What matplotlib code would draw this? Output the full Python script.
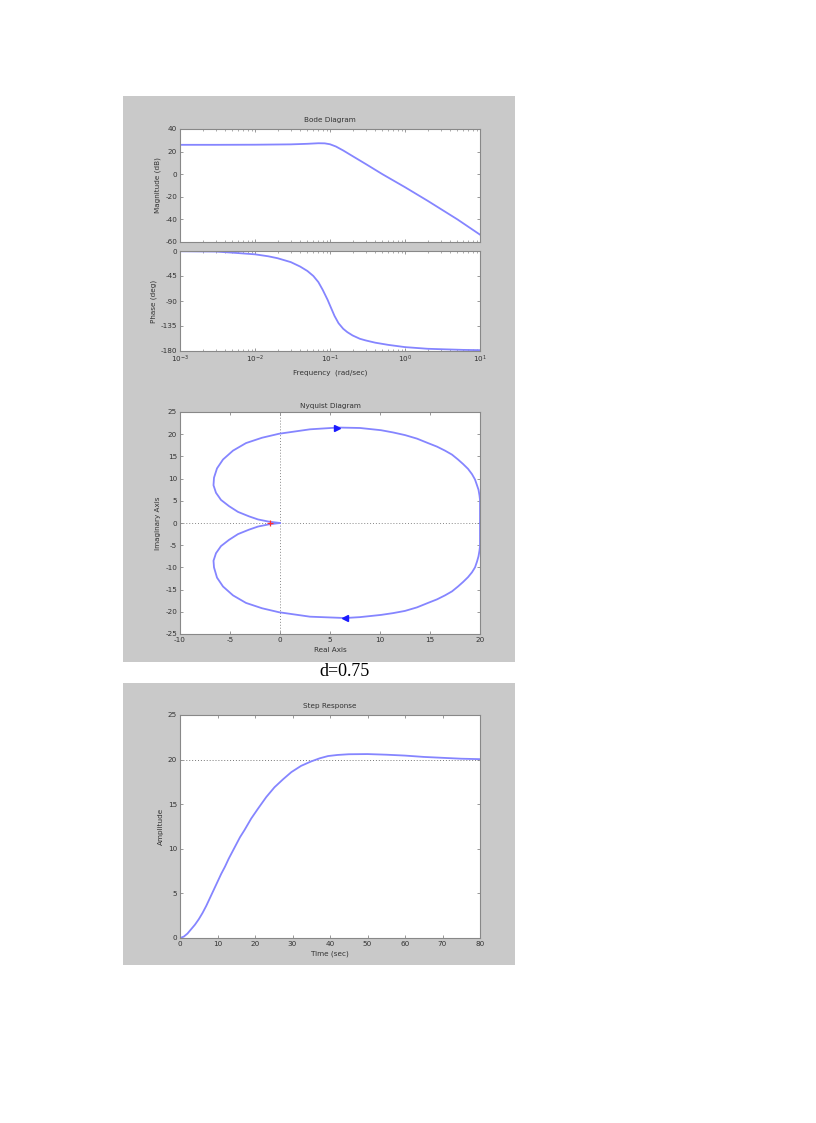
import matplotlib
matplotlib.use("Agg")
import matplotlib.pyplot as plt
from matplotlib.patches import Rectangle
from matplotlib.ticker import LogLocator, NullFormatter

plt.rcParams["axes.unicode_minus"] = False

# ---------------- data ----------------
# Bode magnitude
mag_w = [1e-3, 3e-3, 1e-2, 0.03, 0.05, 0.07, 0.085, 0.1, 0.12, 0.15, 0.2, 0.3, 0.5, 1.0, 2.0, 5.0, 10.0]
mag_db = [26.0, 26.0, 26.1, 26.4, 26.9, 27.4, 27.3, 26.5, 24.5, 21.0, 16.0, 9.0, 0.0, -11.5, -23.5, -40.0, -53.5]

# Bode phase
ph_w = [1e-3, 3e-3, 5e-3, 1e-2, 0.015, 0.02, 0.03, 0.04, 0.05, 0.06, 0.07, 0.08, 0.093, 0.1, 0.115,
        0.13, 0.15, 0.17, 0.2, 0.25, 0.3, 0.4, 0.6, 1.0, 2.0, 3.4, 6.0, 10.0]
ph_deg = [-0.5, -1.0, -3.0, -6.0, -9.5, -13.0, -20.0, -28.0, -36.0, -45.0, -56.0, -70.0, -88.0, -98.0, -117.0,
          -130.0, -140.0, -146.0, -152.0, -158.0, -161.0, -165.0, -169.0, -173.0, -176.0, -177.0, -178.0, -178.5]

# Nyquist, negative-frequency branch (upper half), from origin to (20, 0)
nyq_up_re = [0.0, -1.1, -2.2, -3.1, -4.2, -5.1, -5.9, -6.4, -6.65, -6.6, -6.3, -5.7, -4.7, -3.4, -1.8, -0.1,
             3.0, 5.8, 8.0, 10.1, 11.3, 12.5, 13.7, 14.8, 15.7, 16.5, 17.2, 17.8, 18.3, 18.8, 19.2, 19.5,
             19.7, 19.85, 19.95, 20.0, 20.0]
nyq_up_im = [0.0, 0.3, 0.8, 1.5, 2.5, 3.8, 5.2, 6.8, 8.5, 10.2, 12.3, 14.3, 16.3, 18.0, 19.2, 20.1,
             21.1, 21.5, 21.4, 20.9, 20.4, 19.8, 19.0, 18.0, 17.2, 16.3, 15.4, 14.3, 13.3, 12.2, 11.0, 9.8,
             8.5, 7.5, 6.2, 5.2, 0.0]
# Nyquist, positive-frequency branch (lower half), from (20, 0) to origin
nyq_dn_re = [20.0, 20.0, 19.95, 19.85, 19.7, 19.5, 19.2, 18.8, 18.3, 17.8, 17.2, 16.5, 15.7, 14.8, 13.7,
             12.5, 11.3, 10.1, 8.0, 6.5, 3.0, -0.1, -1.8, -3.4, -4.7, -5.7, -6.3, -6.6, -6.65, -6.4, -5.9,
             -5.1, -4.2, -3.1, -2.2, -1.1, 0.0]
nyq_dn_im = [0.0, -5.2, -6.2, -7.5, -8.7, -10.0, -11.1, -12.2, -13.3, -14.3, -15.4, -16.3, -17.2, -18.0, -19.0,
             -19.8, -20.3, -20.7, -21.2, -21.4, -21.1, -20.1, -19.2, -18.0, -16.3, -14.3, -12.3, -10.0, -8.5,
             -6.8, -5.2, -3.8, -2.5, -1.5, -0.8, -0.3, 0.0]
arrow_up = (5.7, 21.5)
arrow_dn = (6.5, -21.4)
critical_pt = (-1.0, 0.0)

# Step response
step_t = [0, 1, 2, 3, 4, 5, 6, 7, 8, 9, 10, 11, 12, 13, 14, 15, 16, 17.2, 19.0, 20.8, 23.0, 25.2,
          27.5, 29.7, 32.3, 35.0, 37.3, 39.5, 42.0, 45.0, 50.0, 55.0, 60.0, 65.0, 70.0, 75.0, 80.0]
step_y = [0, 0.15, 0.5, 1.0, 1.5, 2.1, 2.8, 3.6, 4.5, 5.4, 6.3, 7.2, 8.0, 8.9, 9.7, 10.5, 11.3, 12.1, 13.4, 14.5, 15.8, 16.9,
          17.8, 18.6, 19.3, 19.8, 20.15, 20.4, 20.52, 20.6, 20.62, 20.55, 20.45, 20.3, 20.2, 20.1, 20.05]
final_value = 20

label_text = "d=0.75"

# ---------------- styling ----------------
W, H = 816, 1123
fig = plt.figure(figsize=(W / 100, H / 100), dpi=100)
fig.patch.set_facecolor("white")

GRAY = "#c9c9c9"
CURVE = "#8585ff"
TXT = "#333333"
FS = 5.2

def fx(px):
    return px / W

def fy(py):
    return 1 - py / H

# grey panels
fig.add_artist(Rectangle((fx(123), fy(662)), fx(515) - fx(123), fy(96) - fy(662),
                         transform=fig.transFigure, facecolor=GRAY, edgecolor="none", zorder=0))
fig.add_artist(Rectangle((fx(123), fy(965)), fx(515) - fx(123), fy(683) - fy(965),
                         transform=fig.transFigure, facecolor=GRAY, edgecolor="none", zorder=0))

def make_ax(x0, x1, y0, y1):
    ax = fig.add_axes([fx(x0), fy(y1), fx(x1) - fx(x0), fy(y0) - fy(y1)])
    ax.set_facecolor("white")
    for s in ax.spines.values():
        s.set_color("#888888")
        s.set_linewidth(0.8)
    ax.tick_params(direction="in", top=True, right=True, labelsize=FS, colors="#888888",
                   labelcolor=TXT, length=2.5, width=0.6, pad=2)
    ax.tick_params(which="minor", direction="in", top=True, right=True, length=1.5,
                   width=0.5, colors="#888888")
    return ax

# --- Bode magnitude ---
axm = make_ax(180, 480, 129, 242)
axm.semilogx(mag_w, mag_db, color=CURVE, lw=1.3)
axm.set_xlim(1e-3, 1e1)
axm.set_ylim(-60, 40)
axm.set_yticks([-60, -40, -20, 0, 20, 40])
axm.xaxis.set_major_locator(LogLocator(base=10, numticks=10))
axm.xaxis.set_minor_locator(LogLocator(base=10, subs=range(2, 10), numticks=100))
axm.xaxis.set_major_formatter(NullFormatter())
axm.xaxis.set_minor_formatter(NullFormatter())
axm.set_ylabel("Magnitude (dB)", fontsize=FS, color=TXT, labelpad=3)
axm.set_title("Bode Diagram", fontsize=FS, color=TXT, pad=5)

# --- Bode phase ---
axp = make_ax(180, 480, 251, 351)
axp.semilogx(ph_w, ph_deg, color=CURVE, lw=1.3)
axp.set_xlim(1e-3, 1e1)
axp.set_ylim(-180, 0)
axp.set_yticks([-180, -135, -90, -45, 0])
axp.xaxis.set_major_locator(LogLocator(base=10, numticks=10))
axp.xaxis.set_minor_locator(LogLocator(base=10, subs=range(2, 10), numticks=100))
axp.xaxis.set_minor_formatter(NullFormatter())
axp.set_ylabel("Phase (deg)", fontsize=FS, color=TXT, labelpad=3)
axp.set_xlabel("Frequency  (rad/sec)", fontsize=FS, color=TXT, labelpad=3)

# --- Nyquist ---
axn = make_ax(180, 480, 412, 634)
axn.axhline(0, color="#888888", ls=(0, (1, 2)), lw=0.7, zorder=1)
axn.axvline(0, color="#888888", ls=(0, (1, 2)), lw=0.7, zorder=1)
axn.plot(nyq_up_re, nyq_up_im, color=CURVE, lw=1.3, zorder=2)
axn.plot(nyq_dn_re, nyq_dn_im, color=CURVE, lw=1.3, zorder=2)
axn.plot([arrow_up[0]], [arrow_up[1]], marker=">", color="#1a1aff", ms=4.5, zorder=3)
axn.plot([arrow_dn[0]], [arrow_dn[1]], marker="<", color="#1a1aff", ms=4.5, zorder=3)
axn.plot([critical_pt[0]], [critical_pt[1]], marker="+", color="#ff3030", ms=5, mew=0.9, zorder=3)
axn.set_xlim(-10, 20)
axn.set_ylim(-25, 25)
axn.set_xticks([-10, -5, 0, 5, 10, 15, 20])
axn.set_yticks([-25, -20, -15, -10, -5, 0, 5, 10, 15, 20, 25])
axn.set_xlabel("Real Axis", fontsize=FS, color=TXT, labelpad=3)
axn.set_ylabel("Imaginary Axis", fontsize=FS, color=TXT, labelpad=3)
axn.set_title("Nyquist Diagram", fontsize=FS, color=TXT, pad=3)

# label between panels
fig.text(fx(345), fy(672), label_text, ha="center", va="center",
         fontsize=13, family="Liberation Serif", color="black")

# --- Step response ---
axs = make_ax(180, 480, 715, 938)
axs.axhline(final_value, color="#777777", ls=(0, (1, 2)), lw=0.7, zorder=1)
axs.plot(step_t, step_y, color=CURVE, lw=1.3, zorder=2)
axs.set_xlim(0, 80)
axs.set_ylim(0, 25)
axs.set_xticks([0, 10, 20, 30, 40, 50, 60, 70, 80])
axs.set_yticks([0, 5, 10, 15, 20, 25])
axs.set_xlabel("Time (sec)", fontsize=FS, color=TXT, labelpad=3)
axs.set_ylabel("Amplitude", fontsize=FS, color=TXT, labelpad=3)
axs.set_title("Step Response", fontsize=FS, color=TXT, pad=5)

fig.savefig("out.png", dpi=100, facecolor="white")
